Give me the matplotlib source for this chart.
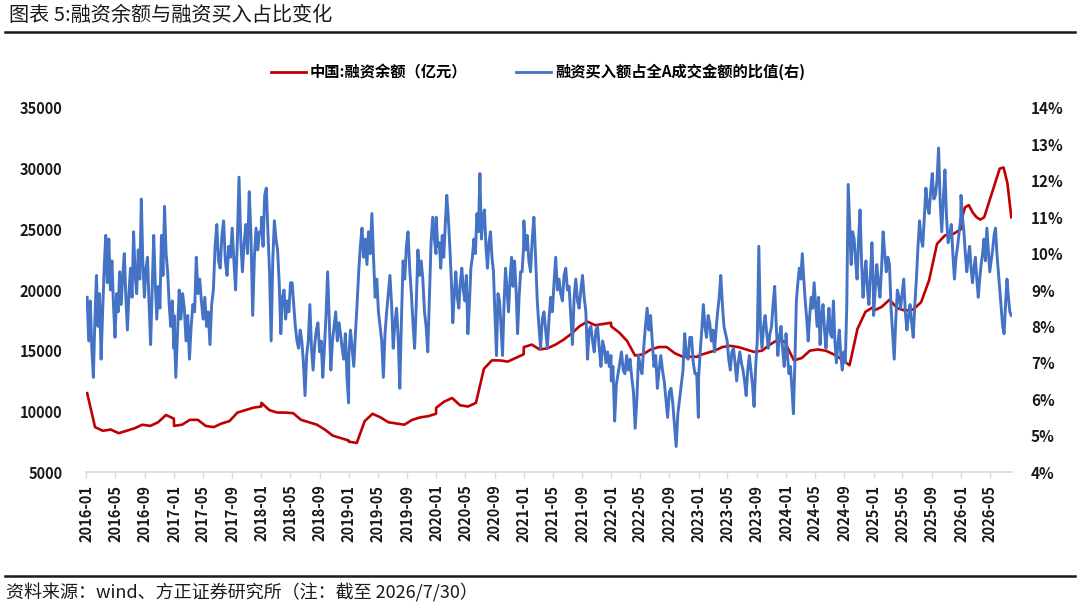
import pandas as pd
import matplotlib
matplotlib.use('Agg')
import matplotlib.pyplot as plt
from matplotlib.lines import Line2D

plt.rcParams['font.family'] = ['Noto Sans CJK SC', 'DejaVu Sans']

title = '图表 5:融资余额与融资买入占比变化'
source = '资料来源：wind、方正证券研究所（注：截至 2026/7/30）'
red_label = '中国:融资余额（亿元）'
blue_label = '融资买入额占全A成交金额的比值(右)'

# 融资余额（亿元），按年读数
red_2016 = [11500, 8700, 8400, 8500, 8200, 8400, 8600, 8900, 8800, 9100, 9700, 9400]
red_2017 = [8800, 8900, 9300, 9300, 8800, 8700, 9000, 9200, 9900, 10100, 10300, 10400]
red_2018 = [10700, 10100, 9900, 9900, 9850, 9300, 9100, 8900, 8500, 8000, 7800, 7600]
red_2019 = [7500, 7400, 9200, 9800, 9500, 9100, 9000, 8900, 9300, 9500, 9600, 9800]
red_2020 = [10300, 10800, 11100, 10500, 10400, 10700, 13500, 14200, 14200, 14100, 14400, 14700]
red_2021 = [15300, 15500, 15100, 15200, 15500, 15900, 16400, 17000, 17400, 17100, 17200, 17300]
red_2022 = [17000, 16500, 15800, 14600, 14700, 15100, 15300, 15300, 14800, 14500, 14500, 14500]
red_2023 = [14600, 14800, 15000, 15300, 15400, 15300, 15100, 14900, 15000, 15500, 15900, 15700]
red_2024 = [15500, 14200, 14400, 15000, 15100, 15000, 14700, 14300, 13800, 16800, 18200, 18600]
red_2025 = [18300, 18600, 19200, 18500, 18300, 18400, 19000, 20800, 23800, 24500, 24600, 25000]
red_2026 = [25600, 26800, 27000, 26400, 26000, 25800, 26000, 27000, 28000, 29000, 30000, 30100,
            28800, 26000]

# 融资买入额占全A成交金额的比值（%），按年读数
blue_2016 = [8.8, 7.6, 8.7, 7.4, 6.6, 8.2, 9.4, 8.0, 8.9, 7.1, 8.4, 9.6, 10.5, 9.2, 10.4, 9.0,
             9.8, 8.6, 7.7, 8.9, 8.4, 9.5, 8.6, 9.4, 10.0, 8.8, 7.9, 8.9, 9.6, 8.8, 10.6, 9.4,
             8.9, 10.1, 9.3, 11.5, 9.7, 8.8, 9.6, 9.9, 8.6, 7.5, 9.0, 10.5, 9.2, 8.2, 9.1, 8.5,
             10.5, 9.4, 11.3, 10.0, 9.5, 8.6, 8.0, 8.7, 7.4]
blue_2017 = [8.3, 6.6, 7.8, 9.0, 8.2, 8.9, 8.5, 7.6, 8.3, 7.1, 8.0, 8.6, 8.4, 9.9, 8.9, 9.3,
             8.7, 8.2, 8.8, 8.0, 8.4, 7.5, 8.6, 9.0, 10.2, 10.8, 9.8, 9.6, 10.5, 10.9, 9.8, 9.4,
             10.2, 9.9, 10.7, 9.8, 9.0, 10.3, 12.1, 10.4, 9.5, 10.3, 10.8, 10.0, 11.7, 10.5,
             8.3, 9.9, 10.7, 10.1, 10.6, 10.6]
blue_2018 = [11.0, 10.2, 11.6, 11.8, 10.6, 9.5, 7.6, 9.8, 10.9, 10.4, 10.1, 9.2, 7.8, 8.8, 9.0,
             8.2, 8.7, 8.4, 9.2, 9.2, 8.6, 8.0, 7.6, 7.4, 7.9, 7.6, 7.0, 6.1, 7.2, 7.6, 8.6, 7.4,
             6.8, 7.5, 7.9, 8.1, 7.3, 7.6, 6.6, 7.4, 8.3, 9.5, 8.2, 6.8, 7.6, 8.0, 8.4, 7.6, 8.1,
             7.8, 7.4, 7.1, 7.8, 6.6, 5.9]
blue_2019 = [7.2, 7.9, 7.4, 6.9, 7.8, 8.6, 9.5, 10.2, 10.7, 9.9, 10.4, 9.7, 10.6, 10.0, 11.1,
             9.9, 8.8, 9.3, 8.4, 8.0, 7.6, 6.6, 7.8, 8.4, 8.9, 9.4, 8.6, 7.4, 8.1, 8.5, 7.7, 6.3,
             8.2, 9.8, 9.3, 10.2, 10.6, 9.6, 8.9, 8.1, 7.4, 8.6, 10.1, 9.4, 9.8, 9.3, 8.4, 8.0,
             7.3, 8.8, 10.3, 11.0, 10.4, 10.0]
blue_2020 = [11.0, 10.2, 10.3, 9.6, 10.5, 9.9, 10.8, 11.6, 11.0, 10.2, 9.3, 8.1, 8.9, 9.5, 8.8,
             8.5, 9.2, 9.6, 9.0, 8.7, 9.4, 7.8, 8.6, 9.6, 9.9, 10.4, 10.0, 11.1, 10.6, 12.2, 10.4,
             11.0, 11.2, 10.2, 9.6, 10.3, 10.6, 9.9, 9.5, 8.3, 7.2, 8.9, 8.7, 8.0, 7.2, 8.6, 9.6,
             9.0, 8.4, 9.3, 9.9, 9.1, 9.8, 9.0, 7.8, 8.8, 9.5, 9.5, 10.2]
blue_2021 = [10.9, 10.1, 10.5, 9.8, 9.5, 10.4, 11.0, 9.9, 8.7, 8.0, 7.4, 8.2, 8.4, 7.9, 7.4,
             8.2, 8.8, 8.4, 9.2, 9.9, 9.0, 9.3, 8.9, 8.7, 9.4, 9.6, 9.0, 9.1, 8.3, 7.5, 8.8, 9.3,
             8.7, 8.5, 9.0, 9.4, 8.8, 8.4, 7.1, 7.9, 8.0, 7.6, 7.3, 7.9, 8.0, 7.4, 6.9, 7.6, 7.4,
             7.0, 7.3, 6.9, 7.2]
blue_2022 = [6.5, 6.9, 5.4, 6.4, 6.7, 7.0, 7.3, 6.8, 6.7, 7.2, 6.8, 7.1, 6.6, 6.2, 5.2, 6.0,
             7.2, 6.9, 6.7, 7.4, 8.0, 8.5, 7.9, 8.3, 7.6, 6.9, 7.2, 6.3, 6.8, 7.2, 6.8, 6.5, 6.0,
             5.5, 6.2, 6.3, 5.9, 5.3, 4.7, 5.6, 6.0, 6.4, 6.8, 7.8, 7.2, 7.1, 7.7, 7.7, 7.0, 6.7,
             6.7, 5.5]
blue_2023 = [6.6, 7.3, 7.9, 8.6, 8.0, 7.7, 8.3, 8.1, 7.6, 7.9, 7.3, 7.9, 8.4, 8.8, 9.4, 8.6,
             8.0, 7.8, 7.6, 7.1, 6.8, 7.3, 7.4, 7.0, 6.5, 7.0, 7.3, 7.0, 6.8, 6.5, 6.1, 6.8, 7.2,
             6.8, 6.4, 5.8, 6.9, 7.6, 10.2, 8.0, 7.4, 8.0, 8.3, 7.8, 7.4, 7.8, 8.0, 8.6, 9.1, 8.0,
             7.2, 7.7, 8.0, 7.4, 6.9, 7.5]
blue_2024 = [7.8, 7.2, 6.7, 6.9, 6.3, 5.6, 7.0, 8.7, 9.2, 9.6, 9.3, 10.0, 9.3, 8.7, 8.2, 7.6,
             8.3, 8.8, 8.5, 9.2, 8.6, 8.0, 8.8, 7.5, 8.3, 8.6, 7.9, 7.4, 8.0, 8.5, 7.8, 7.7, 8.7,
             7.6, 7.0, 7.5, 7.9, 7.2, 6.8, 7.3, 7.0, 8.5, 11.9, 10.8, 9.7, 10.6, 10.4, 9.8, 9.3,
             10.4, 11.2, 9.8, 8.8, 9.4, 9.8, 9.0, 8.6, 9.4, 10.3, 9.1]
blue_2025 = [8.3, 9.0, 9.7, 9.2, 8.8, 9.6, 10.6, 10.0, 9.5, 9.9, 9.7, 8.5, 7.8, 7.1, 8.2, 9.0,
             8.8, 8.5, 8.9, 9.3, 8.4, 7.9, 8.3, 8.6, 8.1, 7.7, 8.6, 9.3, 10.2, 10.9, 10.4, 10.2,
             11.0, 11.8, 11.3, 11.1, 11.7, 12.2, 11.5, 11.6, 12.0, 12.9, 11.4, 10.6, 11.5, 12.3,
             11.0, 10.3, 10.5, 10.8, 10.0, 9.3, 9.9, 10.2, 10.6, 11.0]
blue_2026 = [11.6, 11.0, 10.6, 10.0, 9.5, 9.9, 10.2, 9.6, 9.2, 9.6, 9.9, 9.3, 8.8, 9.3, 9.7,
             10.0, 10.4, 9.8, 10.7, 10.1, 9.5, 9.8, 10.1, 10.5, 10.7, 10.0, 9.5, 9.0, 8.5, 8.0,
             7.8, 8.6, 9.3, 8.8, 8.4, 8.3]

red_years = [red_2016, red_2017, red_2018, red_2019, red_2020, red_2021,
             red_2022, red_2023, red_2024, red_2025, red_2026]
blue_years = [blue_2016, blue_2017, blue_2018, blue_2019, blue_2020, blue_2021,
              blue_2022, blue_2023, blue_2024, blue_2025, blue_2026]


def year_dates(year, n):
    start = '2016-01-04' if year == 2016 else f'{year}-01-01'
    end = '2026-07-30' if year == 2026 else f'{year}-12-31'
    return pd.date_range(start, end, periods=n)


def build(series):
    idx, vals = [], []
    for i, v in enumerate(series):
        idx.extend(year_dates(2016 + i, len(v)))
        vals.extend(v)
    return pd.Series(vals, index=pd.DatetimeIndex(idx))


red = build(red_years)
blue = build(blue_years)

tick_dates = pd.date_range('2016-01-01', '2026-05-01', freq='4MS')
tick_labels = [d.strftime('%Y-%m') for d in tick_dates]

fig = plt.figure(figsize=(10.8, 6.04), dpi=100)
ax = fig.add_axes([0.0796, 0.2185, 0.857, 0.6027])
ax2 = ax.twinx()

ax.plot(red.index, red.values, color='#C00000', lw=1.9)
ax2.plot(blue.index, blue.values, color='#4472C4', lw=2.1)

ax.set_xlim(pd.Timestamp('2015-12-30'), pd.Timestamp('2026-07-31'))
ax.set_ylim(5000, 35000)
ax2.set_ylim(4, 14)
ax.set_yticks(range(5000, 35001, 5000))
ax.set_yticklabels([str(v) for v in range(5000, 35001, 5000)])
ax2.set_yticks(range(4, 15))
ax2.set_yticklabels([f'{v}%' for v in range(4, 15)])
ax.set_xticks(tick_dates)
ax.set_xticklabels(tick_labels, rotation=90)

for s in ['top', 'left', 'right']:
    ax.spines[s].set_visible(False)
for s in ax2.spines.values():
    s.set_visible(False)
ax.spines['bottom'].set_color('#d9d9d9')
ax.spines['bottom'].set_linewidth(1.2)

ax.tick_params(axis='x', length=4, color='#d9d9d9', width=1, pad=5, labelsize=10.5)
ax.tick_params(axis='y', length=0, pad=17, labelsize=10.5)
ax2.tick_params(axis='y', length=0, pad=14, labelsize=11)
for lab in ax.get_xticklabels() + ax.get_yticklabels() + ax2.get_yticklabels():
    lab.set_fontweight('bold')
    lab.set_color('#1a1a1a')

handles = [Line2D([], [], color='#C00000', lw=2), Line2D([], [], color='#4472C4', lw=2)]
fig.legend(handles, [red_label, blue_label], loc='center', bbox_to_anchor=(0.498, 0.881),
           ncol=2, frameon=False, handlelength=2.3, handletextpad=0.25, columnspacing=3.2,
           prop={'weight': 'bold', 'size': 11})

fig.text(0.008, 0.975, title, fontsize=14.5, color='#1a1a1a', va='center', ha='left')
fig.add_artist(Line2D([0.005, 0.995], [0.947, 0.947], color='#1a1a1a', lw=1.8))
fig.add_artist(Line2D([0.005, 0.995], [0.047, 0.047], color='#1a1a1a', lw=1.8))
fig.text(0.006, 0.019, source, fontsize=13, color='#1a1a1a', va='center', ha='left',
         style='italic')

fig.savefig('out.png', dpi=100)
